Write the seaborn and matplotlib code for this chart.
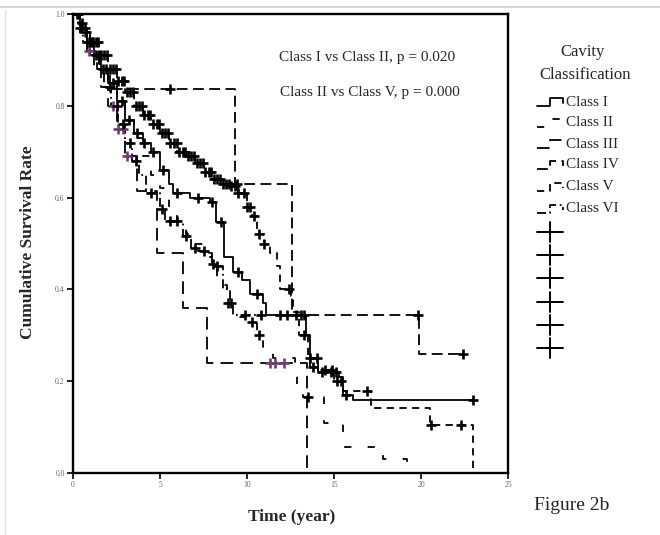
import numpy as np
import pandas as pd
import matplotlib
matplotlib.use("Agg")
import matplotlib.pyplot as plt
from matplotlib.lines import Line2D
import seaborn as sns

sns.set_theme(style="white")
plt.rcParams['font.family'] = ['Liberation Serif', 'DejaVu Serif']

# ---------------- data ----------------
classes = ["Class I", "Class II", "Class III", "Class IV", "Class V", "Class VI"]

t_I = [0, 0.4, 0.8, 1.2, 1.6, 2.0, 2.5, 3.0, 3.5, 4.0, 4.5, 5.0, 5.5, 5.75, 6.7, 7.9, 8.2, 8.7,
       9.2, 9.7, 10.2, 10.9, 11.1, 13.4, 13.6, 14.1, 15.3, 15.5, 16.1, 23.0]
s_I = [1.0, 0.97, 0.94, 0.91, 0.88, 0.85, 0.81, 0.77, 0.74, 0.72, 0.70, 0.66, 0.63, 0.61, 0.60, 0.59,
       0.546, 0.47, 0.437, 0.42, 0.39, 0.37, 0.345, 0.30, 0.23, 0.22, 0.21, 0.17, 0.16, 0.16]
c_I = [0.3, 0.7, 1.1, 1.5, 1.9, 2.3, 2.8, 3.2, 3.7, 4.1, 4.6, 5.2, 6.0, 7.2, 8.0, 8.5, 9.5, 10.6,
       11.9, 12.3, 12.8, 13.1, 13.3, 13.8, 14.3, 14.8, 15.1, 15.7, 23.0]

t_II = [0, 0.5, 1.0, 1.5, 2.0, 2.5, 3.0, 3.5, 4.0, 4.5, 5.0, 5.5, 6.0, 6.5, 7.0, 7.5, 8.0, 8.3,
        8.85, 9.2, 10.2, 10.6, 10.9, 11.5, 12.75, 12.9, 13.2, 14.4, 15.5, 17.8, 19.2]
s_II = [1.0, 0.96, 0.93, 0.89, 0.85, 0.81, 0.77, 0.73, 0.69, 0.65, 0.62, 0.58, 0.55, 0.52, 0.50,
        0.48, 0.455, 0.41, 0.37, 0.34, 0.33, 0.30, 0.275, 0.25, 0.22, 0.185, 0.166, 0.11, 0.057,
        0.03, 0.0]
c_II = [8.05, 8.9, 9.1, 10.3, 10.7, 13.5]

t_III = [0, 0.4, 0.8, 1.2, 1.6, 2.0, 2.5, 3.0, 3.7, 4.8, 6.3, 7.7, 13.45]
s_III = [1.0, 0.96, 0.92, 0.88, 0.84, 0.80, 0.75, 0.69, 0.614, 0.48, 0.36, 0.24, 0.0]
c_III = [0.7, 0.9, 2.3, 2.6, 2.9, 3.1, 11.3, 11.6, 12.1]

t_IV = [0, 0.5, 1.0, 1.5, 2.1, 9.3, 12.6, 19.9, 22.4]
s_IV = [1.0, 0.96, 0.92, 0.88, 0.837, 0.63, 0.345, 0.26, 0.26]
c_IV = [5.6, 9.45, 19.85, 22.4]

t_V = [0, 0.3, 0.7, 1.0, 1.5, 2.0, 2.5, 3.0, 3.5, 4.0, 4.5, 5.0, 5.5, 6.0, 6.5, 7.0, 7.5, 8.0,
       8.5, 9.0, 9.5, 10.0, 10.3, 10.6, 11.0, 11.3, 11.7, 11.9, 12.5, 12.65, 13.0, 13.5, 14.1,
       15.0, 15.5, 17.1, 20.5, 23.0]
s_V = [1.0, 0.98, 0.96, 0.94, 0.91, 0.88, 0.855, 0.83, 0.80, 0.78, 0.76, 0.74, 0.72, 0.70, 0.69,
       0.675, 0.655, 0.64, 0.63, 0.625, 0.61, 0.58, 0.56, 0.52, 0.50, 0.48, 0.45, 0.40, 0.385,
       0.35, 0.30, 0.25, 0.225, 0.20, 0.178, 0.142, 0.105, 0.0]
c_V = [0.25, 0.5, 0.75, 1.0, 1.15, 1.3, 1.45, 1.6, 1.8, 1.95, 2.1, 2.3, 2.45, 2.6, 2.8, 2.95,
       3.1, 3.3, 3.45, 3.6, 3.8, 3.95, 4.1, 4.3, 4.45, 4.6, 4.8, 4.95, 5.1, 5.3, 5.45, 5.6, 5.8,
       5.95, 6.1, 6.3, 6.45, 6.6, 6.8, 6.95, 7.1, 7.3, 7.45, 7.6, 7.8, 7.95, 8.1, 8.3, 8.45, 8.6,
       8.8, 8.95, 9.1, 9.3, 9.5, 9.8, 10.0, 10.2, 10.4, 10.7, 11.0, 12.4, 13.3, 13.6, 14.0, 14.5,
       14.9, 15.2, 15.4, 16.9, 20.6, 22.3]

t_VI = [0, 0.3, 0.6, 1.0, 1.4, 1.8, 2.2, 2.6, 3.0, 3.4, 3.8, 4.2, 5.0, 5.3, 6.3, 6.8, 7.2, 7.8,
        8.0, 8.6, 9.0, 9.2, 10.8]
s_VI = [1.0, 0.97, 0.94, 0.91, 0.88, 0.84, 0.80, 0.76, 0.72, 0.68, 0.65, 0.61, 0.575, 0.55,
        0.516, 0.49, 0.483, 0.47, 0.45, 0.40, 0.37, 0.345, 0.345]
c_VI = [0.4, 0.8, 1.3, 1.7, 2.1, 2.5, 2.9, 3.3, 3.6, 4.5, 5.1, 5.6, 6.0, 6.5, 7.0, 7.5, 8.3,
        9.9, 10.8]

x_ticks = [0, 5, 10, 15, 20, 25]
y_ticks = [0.0, 0.2, 0.4, 0.6, 0.8, 1.0]
y_ticklabels = ["0.0", "0.2", "0.4", "0.6", "0.8", "1.0"]
annotations = ["Class I vs Class II, p = 0.020", "Class II vs Class V, p = 0.000"]

# ---------------- styles ----------------
series = {
    "Class I": (t_I, s_I, c_I),
    "Class II": (t_II, s_II, c_II),
    "Class III": (t_III, s_III, c_III),
    "Class IV": (t_IV, s_IV, c_IV),
    "Class V": (t_V, s_V, c_V),
    "Class VI": (t_VI, s_VI, c_VI),
}
lstyles = {
    "Class I": "-",
    "Class II": (0, (4, 9)),
    "Class III": (0, (7, 4)),
    "Class IV": (0, (6, 3)),
    "Class V": (0, (4, 3)),
    "Class VI": (0, (5, 2, 1, 2)),
}
mcolors = {c: "black" for c in classes}
mcolors["Class III"] = "#6e3f6e"

W, H = 660, 535
fig = plt.figure(figsize=(W / 100, H / 100), dpi=100)
ax = fig.add_axes([73 / W, 1 - 473 / H, (508 - 73) / W, (473 - 14) / H])

for cls in classes:
    t, s, c = series[cls]
    df = pd.DataFrame({"time": t, "surv": s})
    sns.lineplot(data=df, x="time", y="surv", estimator=None, sort=False,
                 drawstyle="steps-post", color="black", linewidth=1.3,
                 linestyle=lstyles[cls], ax=ax)
    ta = np.asarray(t)
    sa = np.asarray(s)
    ca = np.asarray(c)
    idx = np.searchsorted(ta, ca, side="right") - 1
    cdf = pd.DataFrame({"time": ca, "surv": sa[idx]})
    sns.scatterplot(data=cdf, x="time", y="surv", marker="+", s=45,
                    color=mcolors[cls], linewidth=1.9, ax=ax, zorder=3)

ax.set_xlim(0, 25)
ax.set_ylim(0, 1.0)
ax.set_xticks(x_ticks)
ax.set_xticklabels([str(v) for v in x_ticks])
ax.set_yticks(y_ticks)
ax.set_yticklabels(y_ticklabels)
ax.tick_params(axis="both", labelsize=5.5, labelcolor="#666666", length=4, width=1.2,
               color="black", direction="out", pad=2, bottom=True, left=True)
for sp in ax.spines.values():
    sp.set_color("black")
    sp.set_linewidth(1.7)

ax.set_xlabel("")
ax.set_ylabel("")
fig.text(292 / W, 1 - 517 / H, "Time (year)", ha="center", va="center",
         fontsize=12.5, fontweight="bold")
fig.text(28 / W, 1 - 242 / H, "Cumulative Survival Rate", ha="center", va="center",
         rotation=90, fontsize=12.5, fontweight="bold")

fig.text(367 / W, 1 - 58 / H, annotations[0], ha="center", va="center", fontsize=11)
fig.text(370 / W, 1 - 92 / H, annotations[1], ha="center", va="center", fontsize=11)

fig.text(572 / W, 1 - 505 / H, "Figure 2b", ha="center", va="center", fontsize=14)

# legend (manual)
fig.text(583 / W, 1 - 52 / H, "Cavity", ha="center", va="center", fontsize=12)
fig.text(585 / W, 1 - 75 / H, "Classification", ha="center", va="center", fontsize=12)
row_y = [102, 123, 144, 165, 187, 209]
for cls, y in zip(classes, row_y):
    xs = np.array([537, 550, 550, 563, 563]) / W
    ys = 1 - np.array([y + 4, y + 4, y - 4, y - 4, y + 1]) / H
    fig.add_artist(Line2D(xs, ys, transform=fig.transFigure, color="black",
                          linewidth=1.3, linestyle=lstyles[cls]))
    fig.text(566 / W, 1 - y / H, cls, ha="left", va="center", fontsize=11)
plus_y = [232, 255, 278, 302, 325, 348]
for y in plus_y:
    fig.add_artist(Line2D([537 / W, 563 / W], [1 - y / H, 1 - y / H],
                          transform=fig.transFigure, color="black", linewidth=1.4))
    fig.add_artist(Line2D([550 / W, 550 / W], [1 - (y - 10) / H, 1 - (y + 10) / H],
                          transform=fig.transFigure, color="black", linewidth=1.4))

# faint page border
fig.add_artist(Line2D([0, 1], [1 - 7 / H, 1 - 7 / H], transform=fig.transFigure,
                      color="#d0d0d0", linewidth=1.2))
fig.add_artist(Line2D([5 / W, 5 / W], [1 - 10 / H, 0], transform=fig.transFigure,
                      color="#e0e0e0", linewidth=1.0))

fig.savefig("out.png", dpi=100)
